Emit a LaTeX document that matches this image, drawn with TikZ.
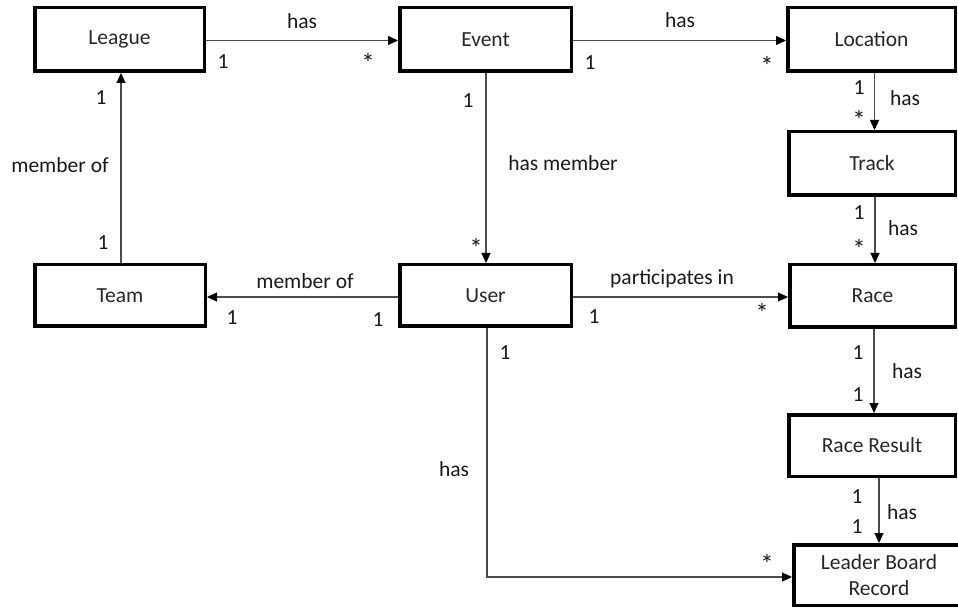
\documentclass[tikz,border=0pt]{standalone}
\usepackage{fontspec}
\setmainfont{Carlito}
\usetikzlibrary{arrows.meta,calc}

\tikzset{
  entity/.style={draw=black, line width=3.5pt, outer sep=1.75pt, inner sep=0pt,
    align=center, text=black!85},
  link/.style={draw=black!70, line width=1.1pt,
    -{Triangle[length=10pt,width=9pt,color=black]}},
  lbl/.style={inner sep=0pt, text=black!90},
  many/.style={lbl, scale=1.25}
}

\begin{document}
\begin{tikzpicture}[x=1pt, y=-1pt, font=\fontsize{21.5}{25.8}\selectfont]
\useasboundingbox (0,0) rectangle (958,609);

% entities
\node[entity, minimum width=169.5pt, minimum height=63.5pt] (League)   at (119.5,39.5) {League};
\node[entity, minimum width=171.5pt, minimum height=63.5pt] (Event)    at (485.5,39.5) {Event};
\node[entity, minimum width=167.5pt, minimum height=63.5pt] (Location) at (871.5,39.5) {Location};
\node[entity, minimum width=166.5pt, minimum height=63.5pt] (Track)    at (872,163.5)  {Track};
\node[entity, minimum width=165.5pt, minimum height=62.5pt] (Race)     at (872.5,296)  {Race};
\node[entity, minimum width=166.5pt, minimum height=61.5pt] (Result)   at (872,445.5)  {Race Result};
\node[entity, minimum width=170.5pt, minimum height=60.5pt] (LBR)      at (879,575)    {Leader Board\\Record};
\node[entity, minimum width=170.5pt, minimum height=61.5pt] (Team)     at (120,295.5)  {Team};
\node[entity, minimum width=171.5pt, minimum height=61.5pt] (User)     at (485.5,295.5) {User};

% associations
\draw[link] ($(League.east)+(0,1)$) -- ($(Event.west)+(0,1)$);
\draw[link] ($(Event.east)+(0,1)$) -- ($(Location.west)+(0,1)$);
\draw[link] ($(Location.south)+(3,0)$) -- ($(Track.north)+(2.5,0)$);
\draw[link] ($(Track.south)+(3,0)$) -- ($(Race.north)+(2.5,0)$);
\draw[link] ($(Race.south)+(1.5,0)$) -- ($(Result.north)+(2,0)$);
\draw[link] ($(Result.south)+(7,0)$) -- (LBR.north);
\draw[link] ($(Event.south)+(0.5,0)$) -- ($(User.north)+(0.5,0)$);
\draw[link] ($(Team.north)+(1,0)$) -- ($(League.south)+(1.5,0)$);
\draw[link] ($(User.west)+(0,1.5)$) -- ($(Team.east)+(0,1.5)$);
\draw[link] ($(User.east)+(0,1.5)$) -- ($(Race.west)+(0,1)$);
\draw[link] ($(User.south)+(1.5,0)$) |- ($(LBR.west)+(0,2)$);

% League -- Event
\node[lbl]  (l1a) at (302,21) {has};
\node[lbl]  (l1b) at (223,62) {1};
\node[many] (l1c) at (368,63) {*};
% Event -- Location
\node[lbl]  (l2a) at (680,20) {has};
\node[lbl]  (l2b) at (590,63) {1};
\node[many] (l2c) at (767,66) {*};
% Location -- Track
\node[lbl]  (l3b) at (859,88) {1};
\node[lbl]  (l3a) at (905,98) {has};
\node[many] (l3c) at (859,120) {*};
% Track -- Race
\node[lbl]  (l4b) at (859,213) {1};
\node[lbl]  (l4a) at (903,228) {has};
\node[many] (l4c) at (859,249) {*};
% Event -- User
\node[lbl]  (l5b) at (468,101) {1};
\node[lbl]  (l5a) at (563,163) {has member};
\node[many] (l5c) at (476,248) {*};
% Team -- League
\node[lbl]  (l6b) at (101,98) {1};
\node[lbl]  (l6a) at (60,165) {member of};
\node[lbl]  (l6c) at (103,243) {1};
% User -- Team
\node[lbl]  (l7a) at (305,281) {member of};
\node[lbl]  (l7b) at (232,318) {1};
\node[lbl]  (l7c) at (378,320) {1};
% User -- Race
\node[lbl]  (l8a) at (672,279) {participates in};
\node[lbl]  (l8b) at (594,317) {1};
\node[many] (l8c) at (762,313) {*};
% Race -- Race Result
\node[lbl]  (l9b) at (858,353) {1};
\node[lbl]  (l9a) at (907,371) {has};
\node[lbl]  (l9c) at (858,395) {1};
% Race Result -- Leader Board Record
\node[lbl]  (l10b) at (857,497) {1};
\node[lbl]  (l10a) at (902,512) {has};
\node[lbl]  (l10c) at (857,527) {1};
% User -- Leader Board Record
\node[lbl]  (l11b) at (505,353) {1};
\node[lbl]  (l11a) at (454,469) {has};
\node[many] (l11c) at (767,564) {*};
\end{tikzpicture}
\end{document}
